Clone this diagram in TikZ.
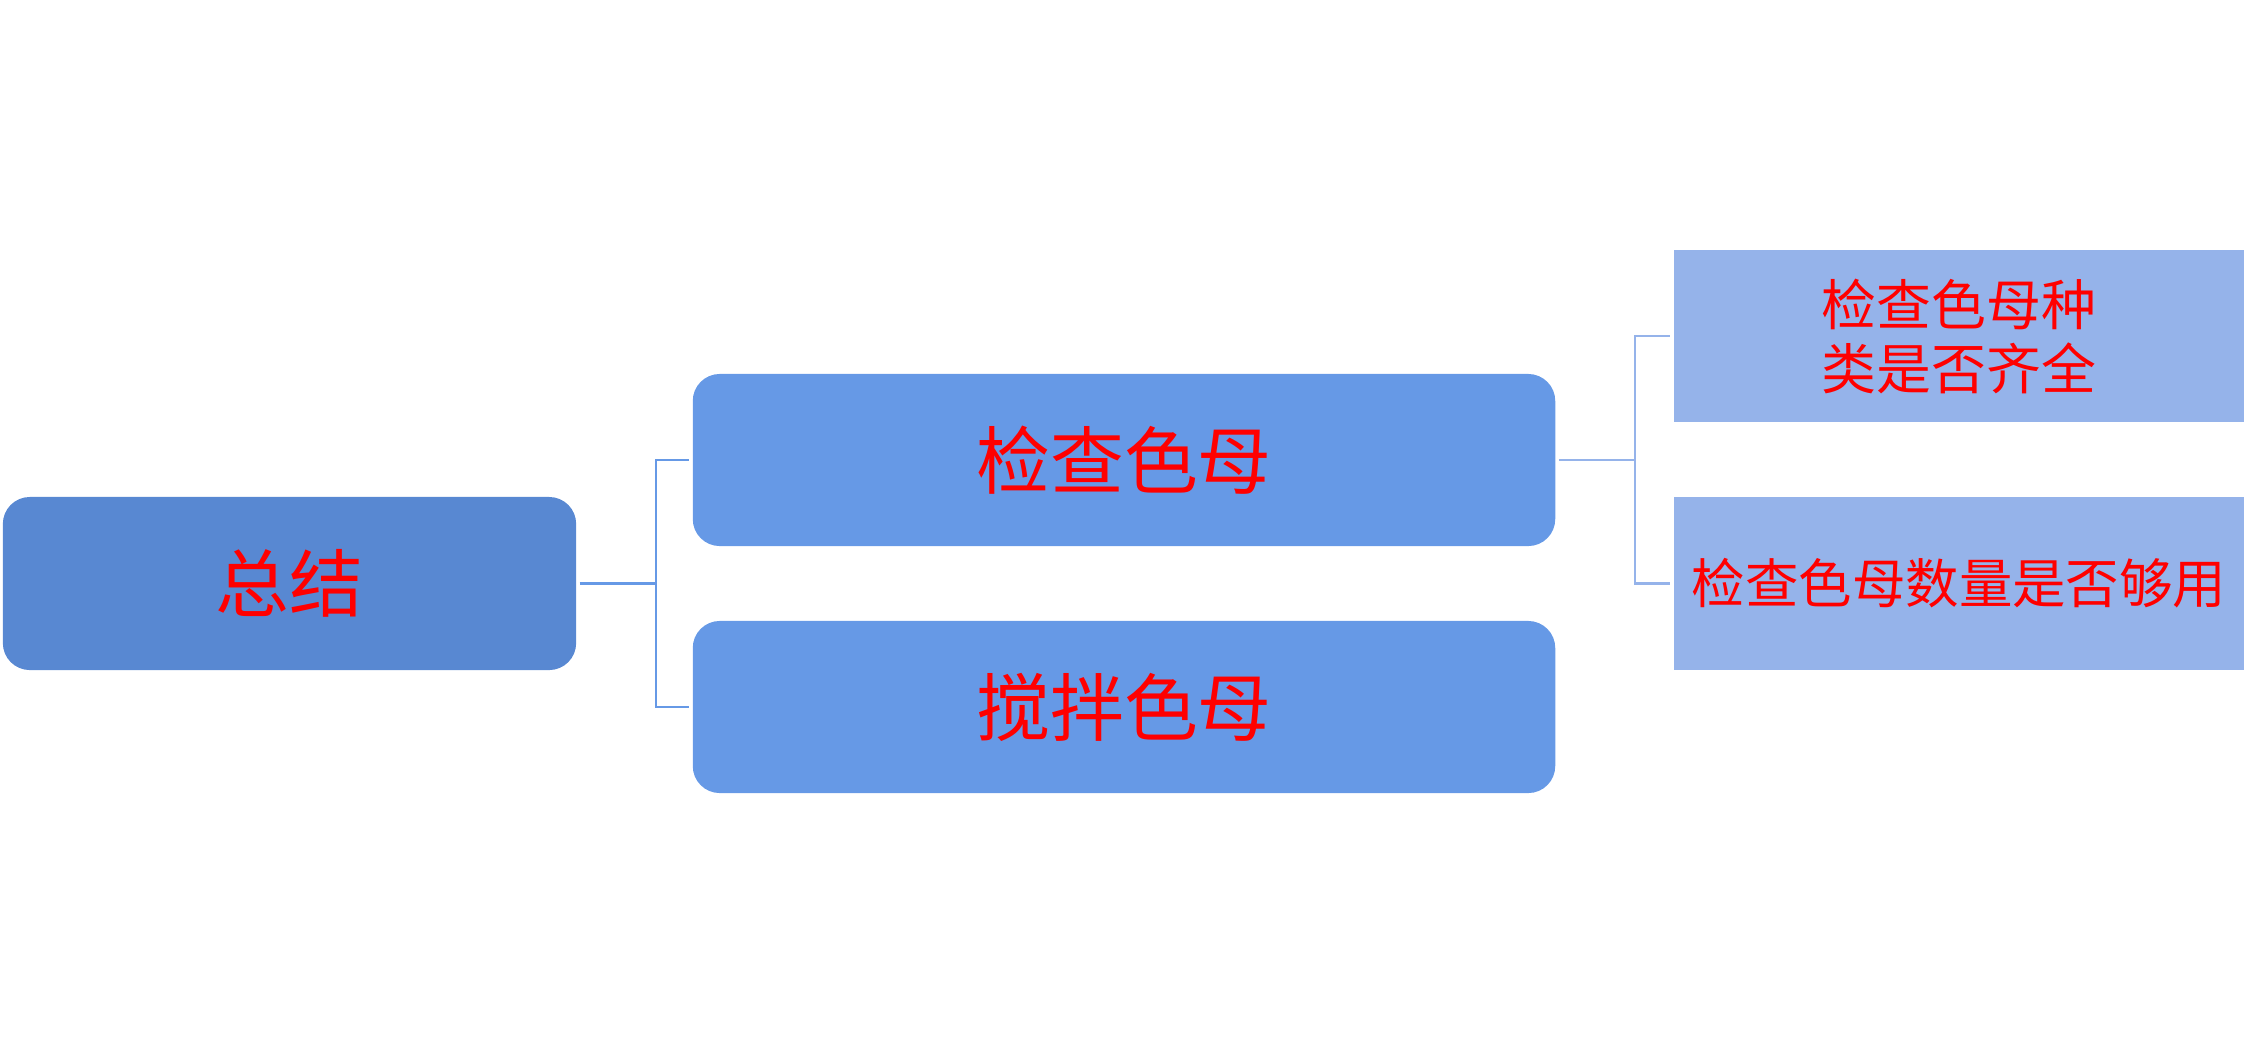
\documentclass[tikz,border=0pt]{standalone}
\usepackage{fontspec}
\setmainfont{Noto Sans CJK SC}
\usepackage{xcolor}
\usetikzlibrary{positioning}
\definecolor{rootblue}{HTML}{5888D2}
\definecolor{midblue}{HTML}{6699E6}
\definecolor{leafblue}{HTML}{95B3EA}
\tikzset{rootbox/.style = {fill=rootblue, rounded corners=0.27cm, minimum width=5.73cm, minimum height=1.73cm, text=red, font=\fontsize{21pt}{25pt}\selectfont}}
\tikzset{midbox/.style = {fill=midblue, rounded corners=0.27cm, minimum width=8.62cm, minimum height=1.72cm, text=red, font=\fontsize{21pt}{25pt}\selectfont}}
\tikzset{leafbox/.style = {fill=leafblue, inner xsep=0pt, minimum width=5.70cm, minimum height=1.72cm, text=red, align=center}}
\tikzset{link/.style = {line width=0.65pt}}

\begin{document}
\begin{tikzpicture}[x=0.01cm, y=-0.01cm]
        \useasboundingbox (0,0) rectangle (2253,1044);
        \node [rootbox] (root) at (289.5,583.5) {总结};
        \node [midbox] (check) at (1124,460) {检查色母};
        \node [midbox] (stir) at (1124,707) {搅拌色母};
        \node [leafbox, font=\fontsize{15.6pt}{18.2pt}\selectfont] (kind) at (1959,336) {检查色母种\\类是否齐全};
        \node [leafbox, font=\fontsize{15.2pt}{18pt}\selectfont] (amount) at (1959,583.5) {检查色母数量是否够用};
        \coordinate (j1) at (656,583.5);
        \coordinate (j2) at (1635,460);
        \draw [link, midblue, shorten <=0.8pt] (root.east) -- (j1);
        \draw [link, midblue, shorten >=0.8pt] (j1) |- (check.west);
        \draw [link, midblue, shorten >=0.8pt] (j1) |- (stir.west);
        \draw [link, leafblue, shorten <=0.8pt] (check.east) -- (j2);
        \draw [link, leafblue, shorten >=0.8pt] (j2) |- (kind.west);
        \draw [link, leafblue, shorten >=0.8pt] (j2) |- (amount.west);
    \end{tikzpicture}
\end{document}
